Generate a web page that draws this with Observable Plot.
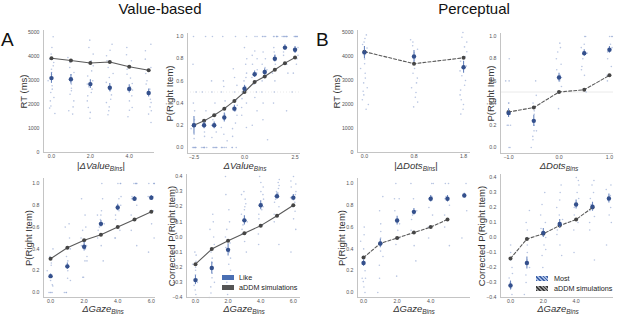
<!DOCTYPE html>
<html><head><meta charset="utf-8">
<script src="https://cdn.jsdelivr.net/npm/d3@7"></script>
<script src="https://cdn.jsdelivr.net/npm/@observablehq/plot@0.6"></script>
<style>
body{margin:0;background:#fff;font-family:"Liberation Sans",Arial,sans-serif;}
#fig{position:relative;width:617px;height:314px;overflow:hidden;background:#fff}
#fig svg{position:absolute;overflow:visible}
.t{position:absolute;white-space:nowrap;color:#111;line-height:1}
.xl{position:absolute;font-size:9.5px;transform:translateX(-50%);white-space:nowrap;color:#333;line-height:1}
.xl sub{font-size:6.5px;vertical-align:-2px}
.lg{position:absolute;font-size:7.2px;color:#222;white-space:nowrap;line-height:1}
.sw{position:absolute;width:12px;height:5px}
</style></head><body><div id="fig"></div>
<script>
// ---------- DATA ----------
const valueAbsBins = [0, 1, 2, 3, 4, 5];
const valueAbsTicks = [0, 2, 4];
const rtValueMean = [3100, 3050, 2850, 2700, 2650, 2480];
const rtValueErr = [220, 200, 180, 170, 170, 170];
const rtValueModel = [3930, 3830, 3730, 3770, 3570, 3430];
const rtValueSubj = [
  [4820,4375,4100,3890,3750,3610,3470,3330,3240,2990,2780,2640,2500,2290,2150,1940,1850,1625],
  [3960,3750,3540,3330,3240,3060,2850,2680,2570,2430,2150,1900,1740,1600],
  [4680,4375,4100,3820,3610,3400,3190,2990,2850,2740,2640,2500,2360,2150,1875,1670,1430],
  [4510,4260,4030,3820,3540,3290,3125,2920,2710,2570,2400,2220,2080,1900,1740,1570],
  [4375,4070,3820,3470,3260,3100,2875,2740,2600,2360,2150,1875,1760,1490],
  [4510,4240,3890,3540,3290,2990,2850,2640,2430,2220,2080,1900,1740,1600,1250]
];

const valueBins = [-2.5, -2, -1.5, -1, -0.5, 0, 0.5, 1, 1.5, 2, 2.5];
const valueTicks = [-2.5, 0, 2.5];
const pValueMean = [0.20, 0.20, 0.20, 0.27, 0.35, 0.53, 0.66, 0.68, 0.80, 0.90, 0.88];
const pValueErr = [0.08, 0.03, 0.03, 0.04, 0.03, 0.03, 0.03, 0.03, 0.03, 0.025, 0.03];
const pValueModel = [0.20, 0.24, 0.29, 0.35, 0.42, 0.50, 0.59, 0.64, 0.70, 0.76, 0.81];
const pValueSubj = [
  [0,0,0,0,0,0,0,0.08,0.12,0.17,0.25,0.33,0.4,0.5,0.75,1.0],
  [0,0,0,0,0,0,0,0.1,0.14,0.2,0.25,0.33,0.5,1.0],
  [0,0,0,0,0,0,0.09,0.14,0.2,0.25,0.3,0.4,0.5,0.6,1.0],
  [0,0,0,0,0,0.06,0.12,0.18,0.25,0.3,0.36,0.42,0.5,0.55,0.6,1.0],
  [0,0,0,0.1,0.17,0.22,0.29,0.33,0.38,0.43,0.5,0.56,0.63,0.71,1.0],
  [0.18,0.29,0.36,0.4,0.44,0.5,0.5,0.55,0.6,0.63,0.67,0.75,0.8,0.9,1.0],
  [0.2,0.33,0.45,0.5,0.57,0.6,0.63,0.67,0.7,0.75,0.8,0.83,0.87,1,1],
  [0.07,0.25,0.4,0.5,0.6,0.67,0.7,0.72,0.75,0.8,0.86,1,1,1,1],
  [0.4,0.5,0.6,0.67,0.75,0.8,0.83,0.86,0.9,1,1,1,1,1,1],
  [0.33,0.67,0.75,0.83,0.86,0.9,1,1,1,1,1,1,1,1],
  [0.5,0.67,0.75,0.8,0.83,0.86,0.88,0.9,1,1,1,1,1,1,1]
];

const gazeBins = [0, 1, 2, 3, 4, 5, 6];
const gazeTicks = [0, 2, 4, 6];
const pGazeValMean = [0.15, 0.24, 0.42, 0.63, 0.78, 0.86, 0.87];
const pGazeValErr = [0.02, 0.03, 0.04, 0.03, 0.03, 0.02, 0.02];
const pGazeValModel = [0.31, 0.41, 0.48, 0.53, 0.60, 0.67, 0.74];
const pGazeValSubj = [
  [0,0,0,0,0.06,0.07,0.11,0.14,0.14,0.2,0.25,0.27,0.33,0.4],
  [0,0,0,0.11,0.13,0.2,0.25,0.25,0.29,0.33,0.4,0.5,0.6,0.63],
  [0.14,0.14,0.29,0.29,0.33,0.4,0.43,0.43,0.5,0.57,0.6,0.71,0.86],
  [0.29,0.43,0.5,0.57,0.6,0.63,0.67,0.71,0.71,0.75,0.86,1.0],
  [0.5,0.5,0.57,0.67,0.71,0.75,0.8,0.86,0.88,1,1,1],
  [0.43,0.57,0.71,0.8,0.86,0.86,0.88,1,1,1,1,1],
  [0.37,0.5,0.63,0.75,0.86,0.88,0.88,1,1,1,1]
];

const corrValMean = [-0.285, -0.205, -0.085, 0.11, 0.21, 0.27, 0.26];
const corrValErr = [0.03, 0.04, 0.04, 0.03, 0.03, 0.02, 0.02];
const corrValModel = [-0.18, -0.08, -0.025, 0.025, 0.075, 0.14, 0.21];
const corrValSubj = [
  [-0.4,-0.38,-0.35,-0.32,-0.3,-0.28,-0.25,-0.22,-0.2,-0.18,-0.16,-0.12,-0.1],
  [-0.4,-0.37,-0.33,-0.3,-0.27,-0.24,-0.2,-0.17,-0.14,-0.1,-0.05,0,0.05,0.1,0.15],
  [-0.38,-0.3,-0.22,-0.18,-0.14,-0.1,-0.07,-0.04,0,0.05,0.1,0.18,0.28,0.4],
  [-0.1,-0.03,0.02,0.05,0.08,0.1,0.12,0.15,0.18,0.2,0.22,0.25,0.28,0.3],
  [-0.05,0.02,0.08,0.12,0.15,0.18,0.2,0.22,0.25,0.28,0.3,0.33,0.36,0.4],
  [-0.05,0.1,0.15,0.2,0.23,0.25,0.27,0.29,0.3,0.32,0.34,0.36,0.38],
  [-0.1,0.05,0.12,0.17,0.2,0.23,0.26,0.28,0.3,0.33,0.35,0.37,0.4]
];

const dotsAbsBins = [0, 1, 2];
const dotsAbsLabels = ["0.0", "0.8", "1.8"];
const rtDotsMean = [4170, 4000, 3550];
const rtDotsErr = [250, 250, 250];
const rtDotsModel = [4200, 3700, 3945];
const rtDotsSubj = [
  [4900,4750,4600,4500,4350,4200,4050,3900,3700,3500,3300,3100,2900,2700,2550,2400,2200,2000,1800],
  [4700,4600,4450,4300,4150,4000,3850,3700,3500,3300,3100,2900,2700,2500,2300,2100,1900],
  [5000,4800,4600,4400,4200,4000,3800,3600,3400,3200,3000,2800,2600,2400,2200,2000,1800,1600]
];

const dotsBins = [-1, -0.5, 0, 0.5, 1];
const dotsTicks = [-1, 0, 1];
const pDotsMean = [0.31, 0.24, 0.63, 0.85, 0.88];
const pDotsErr = [0.04, 0.05, 0.04, 0.03, 0.03];
const pDotsModel = [0.32, 0.36, 0.50, 0.52, 0.65];
const pDotsSubj = [
  [0,0,0.2,0.2,0.2,0.3,0.33,0.4,0.4,0.6,0.6,0.8],
  [0,0.07,0.1,0.15,0.15,0.2,0.25,0.3,0.33,0.4,0.47,0.6],
  [0.35,0.5,0.55,0.6,0.63,0.65,0.7,0.75,0.8,0.86,0.9,0.94],
  [0.5,0.65,0.7,0.73,0.8,0.85,0.86,0.9,0.93,1,1],
  [0.6,0.65,0.73,0.8,0.86,0.88,0.9,0.93,1,1,1]
];

const pGazeDotsMean = [0.27, 0.45, 0.66, 0.74, 0.86, 0.86, 0.89];
const pGazeDotsErr = [0.03, 0.04, 0.04, 0.03, 0.03, 0.03, 0.02];
const pGazeDotsModel = [0.32, 0.45, 0.50, 0.55, 0.60, 0.67];
const pGazeDotsSubj = [
  [0,0.05,0.1,0.13,0.13,0.2,0.27,0.33,0.4,0.47,0.53,0.6],
  [0,0.13,0.25,0.33,0.38,0.44,0.5,0.56,0.63,0.75,0.88],
  [0.15,0.44,0.5,0.57,0.63,0.67,0.75,0.86,0.86,1],
  [0.29,0.43,0.57,0.67,0.71,0.75,0.86,1],
  [0.5,0.6,0.71,0.78,0.86,0.88,1,1],
  [0.43,0.6,0.71,0.8,0.86,0.88,1,1],
  [0.5,0.75,0.88,1]
];

const corrDotsMean = [-0.32, -0.17, 0.03, 0.09, 0.22, 0.205, 0.26];
const corrDotsErr = [0.03, 0.04, 0.03, 0.03, 0.03, 0.03, 0.03];
const corrDotsModel = [-0.14, -0.01, 0.025, 0.08, 0.12, 0.20];
const corrDotsSubj = [
  [-0.38,-0.34,-0.3,-0.27,-0.24,-0.2,-0.15,-0.1,-0.05],
  [-0.38,-0.3,-0.25,-0.2,-0.15,-0.1,-0.05,0,0.05,0.1,0.18],
  [-0.2,-0.12,-0.08,-0.05,0,0.03,0.06,0.1,0.15,0.22,0.3],
  [-0.12,-0.05,0.02,0.05,0.08,0.12,0.15,0.2,0.25,0.3,0.35],
  [-0.1,0.05,0.1,0.15,0.2,0.22,0.26,0.3,0.35,0.38,0.4],
  [-0.15,0.05,0.1,0.14,0.18,0.22,0.26,0.3,0.35,0.38],
  [-0.05,0.1,0.15,0.2,0.25,0.28,0.32,0.35]
];

const rtTicks = [0, 1000, 2000, 3000, 4000, 5000];
const pTicks = [0, 0.2, 0.4, 0.6, 0.8, 1.0];
const corrTicks = [-0.4, -0.3, -0.2, -0.1, 0, 0.1, 0.2, 0.3, 0.4];

// ---------- DRAWING ----------
const fig = document.getElementById("fig");
const FONT = "'Liberation Sans', Arial, sans-serif";
// deterministic horizontal strip jitter (position only, not data)
const jit = (i, k) => { const s = Math.sin((i + 1) * 12.9898 + (k + 1) * 78.233) * 43758.5453; return (s - Math.floor(s)) - 0.5; };

function panel(p) {
  const W = p.right - p.left, H = p.bottom - p.top;
  const mL = 50, mR = 6, mT = 6, mB = 14;
  const pxPerX = W / (p.xDomain[1] - p.xDomain[0]);
  const dots = [];
  p.bins.forEach((b, k) => p.subj[k].forEach((v, i) => dots.push({b, v, i, k})));
  const means = p.bins.map((b, k) => ({b, m: p.mean[k], e: p.err[k]}));
  const model = p.model.map((m, k) => ({b: p.bins[k], m}));
  const marks = [];
  if (p.ref != null) marks.push(Plot.ruleY([p.ref], {stroke: "#e4e4e4", strokeWidth: 0.8, strokeDasharray: p.refDash}));
  marks.push(Plot.dot(dots, {x: d => d.b + jit(d.i, d.k) * p.jpx / pxPerX, y: "v", r: 0.8, fill: "#94a8d2", fillOpacity: 0.65, stroke: "none"}));
  marks.push(Plot.line(model, {x: "b", y: "m", stroke: "#5a5a5a", strokeWidth: 1.1, strokeDasharray: p.dash}));
  marks.push(Plot.dot(model, {x: "b", y: "m", r: 2, fill: "#454545", stroke: "none"}));
  marks.push(Plot.ruleX(means, {x: "b", y1: d => d.m - d.e, y2: d => d.m + d.e, stroke: "#6c88c0", strokeWidth: 1.1}));
  marks.push(Plot.dot(means, {x: "b", y: "m", r: 2.2, fill: "#34508c", stroke: "none"}));
  marks.push(Plot.ruleX([p.xDomain[0]], {stroke: "#c4c4c4", strokeWidth: 1}));
  marks.push(Plot.ruleY([p.yDomain[0]], {stroke: "#c4c4c4", strokeWidth: 1}));
  marks.push(Plot.axisX({ticks: p.xTicks, tickFormat: p.xFmt, tickSize: 0, tickPadding: 2, fontSize: 5.2, label: null, color: "#555"}));
  marks.push(Plot.axisY({ticks: p.yTicks, tickFormat: p.yFmt, tickSize: 0, tickPadding: 4, fontSize: 5.2, label: null, color: "#555"}));
  marks.push(Plot.text([p.ylabel], {text: d => d, frameAnchor: "left", textAnchor: "middle", lineAnchor: "middle", rotate: -90, dx: -(p.left - p.ylabelX), fontSize: 9.5, fill: "#333"}));
  const svg = Plot.plot({
    width: W + mL + mR, height: H + mT + mB,
    marginLeft: mL, marginRight: mR, marginTop: mT, marginBottom: mB,
    x: {domain: p.xDomain}, y: {domain: p.yDomain},
    style: {fontFamily: FONT, background: "none", overflow: "visible"},
    marks
  });
  svg.style.left = (p.left - mL) + "px";
  svg.style.top = (p.top - mT) + "px";
  fig.appendChild(svg);
  const xl = document.createElement("div");
  xl.className = "xl";
  xl.innerHTML = p.xlabel;
  xl.style.left = p.xlabelX + "px";
  xl.style.top = p.xlabelY + "px";
  fig.appendChild(xl);
}

const f1 = d3.format(".1f");
const lab = (pre, name, post) => `${pre}<i>Δ${name}</i><sub><i>Bins</i></sub>${post}`;

panel({left: 43, right: 154, top: 30, bottom: 152, xDomain: [-0.41, 5.3], yDomain: [0, 5083],
  xTicks: valueAbsTicks, xFmt: f1, yTicks: rtTicks, yFmt: d3.format("d"),
  bins: valueAbsBins, subj: rtValueSubj, mean: rtValueMean, err: rtValueErr, model: rtValueModel,
  jpx: 7, ylabel: "RT (ms)", ylabelX: 23, xlabel: lab("|", "Value", "|"), xlabelX: 101, xlabelY: 161});

panel({left: 187, right: 300, top: 33, bottom: 153, xDomain: [-2.82, 2.77], yDomain: [-0.054, 1.027],
  xTicks: valueTicks, xFmt: f1, yTicks: pTicks, yFmt: f1,
  bins: valueBins, subj: pValueSubj, mean: pValueMean, err: pValueErr, model: pValueModel,
  jpx: 6, ref: 0.5, refDash: "1,2", ylabel: "P(Right Item)", ylabelX: 169, xlabel: lab("", "Value", ""), xlabelX: 245, xlabelY: 161});

panel({left: 43, right: 155, top: 178, bottom: 297, xDomain: [-0.42, 6.25], yDomain: [-0.046, 1.046],
  xTicks: gazeTicks, xFmt: f1, yTicks: pTicks, yFmt: f1,
  bins: gazeBins, subj: pGazeValSubj, mean: pGazeValMean, err: pGazeValErr, model: pGazeValModel,
  jpx: 7, ylabel: "P(Right Item)", ylabelX: 28, xlabel: lab("", "Gaze", ""), xlabelX: 103, xlabelY: 304});

panel({left: 186, right: 300, top: 174, bottom: 297, xDomain: [-0.55, 6.44], yDomain: [-0.4, 0.413],
  xTicks: gazeTicks, xFmt: f1, yTicks: corrTicks, yFmt: f1,
  bins: gazeBins, subj: corrValSubj, mean: corrValMean, err: corrValErr, model: corrValModel,
  jpx: 6, ylabel: "Corrected P(Right Item)", ylabelX: 171, xlabel: lab("", "Gaze", ""), xlabelX: 244, xlabelY: 304});

panel({left: 357, right: 470, top: 30, bottom: 152, xDomain: [-0.14, 2.14], yDomain: [0, 5083],
  xTicks: dotsAbsBins, xFmt: i => dotsAbsLabels[i], yTicks: rtTicks, yFmt: d3.format("d"),
  bins: dotsAbsBins, subj: rtDotsSubj, mean: rtDotsMean, err: rtDotsErr, model: rtDotsModel,
  jpx: 8, dash: "3,2", ylabel: "RT (ms)", ylabelX: 336, xlabel: lab("|", "Dots", "|"), xlabelX: 416, xlabelY: 161});

panel({left: 500, right: 613, top: 33, bottom: 153, xDomain: [-1.16, 1.08], yDomain: [-0.054, 1.027],
  xTicks: dotsTicks, xFmt: f1, yTicks: pTicks, yFmt: f1,
  bins: dotsBins, subj: pDotsSubj, mean: pDotsMean, err: pDotsErr, model: pDotsModel,
  jpx: 6, dash: "3,2", ref: 0.5, refDash: null, ylabel: "P(Right Item)", ylabelX: 490, xlabel: lab("", "Dots", ""), xlabelX: 559, xlabelY: 161});

panel({left: 357, right: 470, top: 178, bottom: 297, xDomain: [-0.36, 6.37], yDomain: [-0.046, 1.046],
  xTicks: gazeTicks.slice(0, 3), xFmt: f1, yTicks: pTicks, yFmt: f1,
  bins: gazeBins, subj: pGazeDotsSubj, mean: pGazeDotsMean, err: pGazeDotsErr, model: pGazeDotsModel,
  jpx: 6, dash: "3,2", ylabel: "P(Right Item)", ylabelX: 341, xlabel: lab("", "Gaze", ""), xlabelX: 414, xlabelY: 304});

panel({left: 500, right: 613, top: 174, bottom: 297, xDomain: [-0.61, 6.28], yDomain: [-0.4, 0.42],
  xTicks: gazeTicks.slice(0, 3), xFmt: f1, yTicks: corrTicks, yFmt: f1,
  bins: gazeBins, subj: corrDotsSubj, mean: corrDotsMean, err: corrDotsErr, model: corrDotsModel,
  jpx: 6, dash: "3,2", ylabel: "Corrected P(Right Item)", ylabelX: 481, xlabel: lab("", "Gaze", ""), xlabelX: 558, xlabelY: 304});

// titles & panel letters
function txt(s, x, y, size, cls = "t", extra = "") {
  const d = document.createElement("div");
  d.className = cls; d.textContent = s;
  d.style.cssText += `left:${x}px;top:${y}px;font-size:${size}px;${extra}`;
  fig.appendChild(d);
  return d;
}
txt("Value-based", 160, 1, 15, "t", "transform:translateX(-50%)");
txt("Perceptual", 474, 1, 15, "t", "transform:translateX(-50%)");
txt("A", 1, 30, 19);
txt("B", 316, 30, 19);

// legends
function sw(x, y, bg) { const d = document.createElement("div"); d.className = "sw"; d.style.left = x + "px"; d.style.top = y + "px"; d.style.background = bg; fig.appendChild(d); }
sw(222, 275, "#4a6fb3"); txt("Like", 239, 274, 7.2, "lg");
sw(222, 285, "#555"); txt("aDDM simulations", 239, 284, 7.2, "lg");
sw(536, 276, "repeating-linear-gradient(45deg,#3f63a8 0 1.2px,#a8bce3 1.2px 2.6px)"); txt("Most", 554, 275, 7.2, "lg");
sw(536, 286, "repeating-linear-gradient(45deg,#3a3a3a 0 1.2px,#9a9a9a 1.2px 2.6px)"); txt("aDDM simulations", 554, 285, 7.2, "lg");
</script>
</body></html>
